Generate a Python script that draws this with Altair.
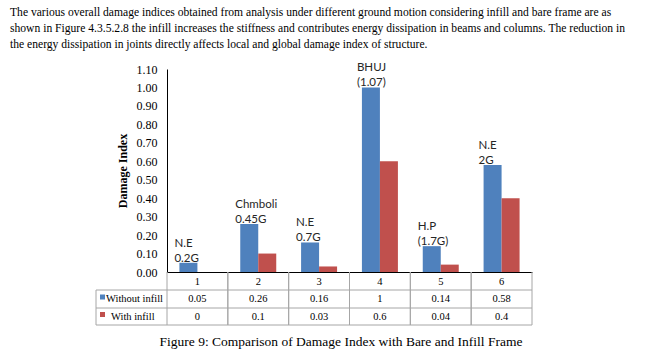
import altair as alt
import pandas as pd

# ---------------- data ----------------
cases = ["1", "2", "3", "4", "5", "6"]
series = ["Without infill", "With infill"]
without_infill = [0.05, 0.26, 0.16, 1, 0.14, 0.58]
with_infill = [0, 0.1, 0.03, 0.6, 0.04, 0.4]
motion_labels = ["N.E\n0.2G", "Chmboli\n0.45G", "N.E\n0.7G", "BHUJ\n(1.07)", "H.P\n(1.7G)", "N.E\n2G"]
y_ticks = [0.0, 0.1, 0.2, 0.3, 0.4, 0.5, 0.6, 0.7, 0.8, 0.9, 1.0, 1.1]
colors = ["#4F81BD", "#C0504D"]
paragraph = [
    "The various overall damage indices obtained from analysis under different ground motion considering infill and bare frame are as",
    "shown in Figure 4.3.5.2.8 the infill increases the stiffness and contributes energy dissipation in beams and columns. The reduction in",
    "the energy dissipation in joints directly affects local and global damage index of structure.",
]
caption = "Figure 9: Comparison of Damage Index with Bare and Infill Frame"

# ---------------- layout constants ----------------
LEFT, TOP = 167, 69
W, H = 365, 203
SERIF = "Liberation Serif"
SANS = "Lato"
GRID = "#A6A6A6"

values_by_series = [without_infill, with_infill]
bars_df = pd.DataFrame(
    [{"case": c, "series": s, "value": v}
     for s, vals in zip(series, values_by_series)
     for c, v in zip(cases, vals)]
)
label_df = pd.DataFrame({"case": cases, "value": without_infill, "label": motion_labels})
case_df = pd.DataFrame({"case": cases})

x_scale = alt.Scale(domain=cases, paddingInner=0, paddingOuter=0)
y_scale = alt.Scale(domain=[0, 1.1], nice=False)
color_scale = alt.Scale(domain=series, range=colors)

x_axis = alt.Axis(title=None, labelAngle=0, labelFont=SERIF, labelFontSize=10.5,
                  labelColor="black", ticks=False, labelPadding=4,
                  domainColor="black", grid=False)
y_axis = alt.Axis(values=y_ticks, format=".2f", title="Damage Index",
                  titleFont=SERIF, titleFontWeight="bold", titleFontSize=12,
                  titleColor="black", titleX=-45, titleY=H / 2, titleAngle=-90,
                  titleAlign="center", titleBaseline="middle",
                  labelFont=SERIF, labelFontSize=12, labelColor="black",
                  ticks=False, labelPadding=10, domainColor="black", grid=False)


def X(bp=None):
    if bp is None:
        return alt.X("case:N", sort=cases, scale=x_scale, axis=x_axis)
    return alt.X("case:N", sort=cases, scale=x_scale, axis=x_axis, bandPosition=bp)


def Y():
    return alt.Y("value:Q", scale=y_scale, axis=y_axis)


bars = alt.Chart(bars_df).mark_bar().encode(
    x=X(),
    xOffset=alt.XOffset("series:N", sort=series,
                        scale=alt.Scale(domain=series, paddingOuter=0.69, paddingInner=0)),
    y=Y(),
    color=alt.Color("series:N", scale=color_scale, legend=None),
)

labels = alt.Chart(label_df).mark_text(
    align="left", baseline="middle", dx=-23, dy=-19, lineBreak="\n", lineHeight=15,
    font=SANS, fontSize=11.5, color="#262626",
).encode(
    x=X(),
    y=Y(),
    text="label:N",
)

layers = [bars, labels]

# table vertical lines (column boundaries)
for bp in (0, 1):
    layers.append(
        alt.Chart(case_df).mark_rule(color=GRID, strokeWidth=1).encode(
            x=X(bp), y=alt.value(H), y2=alt.value(H + 53),
        )
    )

# table horizontal lines and left border
row_lines = [H + 18, H + 36, H + 53]
for ry in row_lines:
    layers.append(
        alt.Chart(case_df.head(1)).mark_rule(color=GRID, strokeWidth=1).encode(
            x=alt.value(96 - LEFT), x2=alt.value(W), y=alt.value(ry)
        )
    )
layers.append(
    alt.Chart(case_df.head(1)).mark_rule(color=GRID, strokeWidth=1).encode(
        x=alt.value(96 - LEFT), y=alt.value(H + 18), y2=alt.value(H + 53)
    )
)

# table value rows + legend keys
row_centers = [H + 27, H + 44.5]
text_x = [106 - LEFT, 111 - LEFT]
for i, s in enumerate(series):
    row_df = bars_df[bars_df["series"] == s]
    layers.append(
        alt.Chart(row_df).mark_text(font=SERIF, fontSize=10.5, color="black", baseline="middle").encode(
            x=X(),
            y=alt.value(row_centers[i]),
            text=alt.Text("value:N"),
        )
    )
    key_df = pd.DataFrame({"series": [s]})
    layers.append(
        alt.Chart(key_df).mark_point(shape="square", filled=True, size=25, opacity=1).encode(
            x=alt.value(102.5 - LEFT), y=alt.value(row_centers[i] - 2),
            color=alt.Color("series:N", scale=color_scale, legend=None),
        )
    )
    layers.append(
        alt.Chart(key_df).mark_text(align="left", baseline="middle", font=SERIF,
                                    fontSize=10.5, color="black").encode(
            x=alt.value(text_x[i]), y=alt.value(row_centers[i]), text="series:N"
        )
    )

# paragraph above the chart (first line centred at y=13)
para_df = pd.DataFrame({"t": ["\n".join(paragraph)]})
layers.append(
    alt.Chart(para_df).mark_text(align="left", baseline="middle", lineBreak="\n", lineHeight=16,
                                 font=SERIF, fontSize=11.6, color="black").encode(
        x=alt.value(10 - LEFT), y=alt.value(13 - TOP), text="t:N"
    )
)

# caption
cap_df = pd.DataFrame({"t": [caption]})
layers.append(
    alt.Chart(cap_df).mark_text(align="center", baseline="middle", font=SERIF,
                                fontSize=13.5, color="black").encode(
        x=alt.value(341 - LEFT), y=alt.value(342 - TOP), text="t:N"
    )
)

chart = alt.layer(*layers).properties(
    width=W, height=H,
    padding={"left": LEFT, "top": TOP, "right": 658 - LEFT - W, "bottom": 353 - TOP - H},
    autosize=alt.AutoSizeParams(type="none"),
    background="white",
).configure_view(stroke=None)

chart.save("out.html", embed_options={"renderer": "svg", "actions": False})
